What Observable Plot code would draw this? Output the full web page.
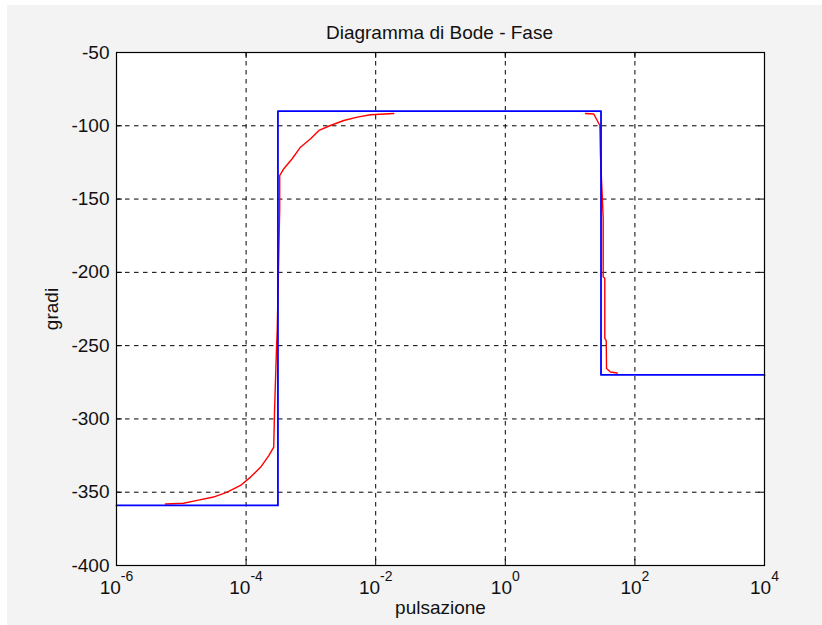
<!DOCTYPE html>
<html>
<head>
<meta charset="utf-8">
<script src="https://cdn.jsdelivr.net/npm/d3@7"></script>
<script src="https://cdn.jsdelivr.net/npm/@observablehq/plot@0.6"></script>
<style>
  html, body { margin: 0; padding: 0; background: #ffffff; }
  #fig {
    position: absolute; left: 0; top: 0;
    width: 822px; height: 625px;
    box-sizing: border-box;
    border-top: 5px solid #ffffff;
    border-left: 7px solid #ffffff;
    background: #f3f3f3;
    font-family: "Liberation Sans", Arial, sans-serif;
  }
  #title {
    height: 35px; box-sizing: border-box;
    padding-top: 18px;
    padding-left: 50px;
    font-size: 19px; line-height: 19px;
    text-align: center; color: #111;
  }
</style>
</head>
<body>
<div id="fig">
  <div id="title">Diagramma di Bode - Fase</div>
  <div id="chart"></div>
</div>
<script>
// Axis ticks
const xTicks = [1e-6, 1e-4, 1e-2, 1, 1e2, 1e4];
const yTicks = [-50, -100, -150, -200, -250, -300, -350, -400];

// Asymptotic phase (blue)
const asymW = [1e-6, 3.1e-4, 3.1e-4, 30, 30, 1e4];
const asymPhase = [-359, -359, -90, -90, -270, -270];

// Computed phase (red)
const phaseW = [
  5.7e-6, 1.08e-5, 1.76e-5, 3.14e-5, 5.1e-5, 8.2e-5, 1.17e-4, 1.67e-4, 2.24e-4,
  2.67e-4, 2.74e-4, 2.94e-4, 3.02e-4, 3.3e-4, 3.3e-4, 3.82e-4, 5.14e-4, 6.9e-4,
  9.9e-4, 1.33e-3, 2.0e-3, 3.22e-3, 5.2e-3, 8.3e-3, 1.9e-2
];
const phaseDeg = [
  -358, -357.5, -355.6, -353.3, -350, -345.4, -339.7, -333, -325,
  -319.2, -296, -253, -240, -157, -134, -129.3, -122.5, -114.6,
  -108.9, -103.2, -99.8, -96.4, -94.1, -92.5, -91.6
];
const phaseW2 = [17.3, 23.2, 26.2, 28.8, 29.4, 32.4, 32.4, 34.3, 34.3, 36.1, 36.5, 42, 53.3];
const phaseDeg2 = [-91.6, -92, -96.4, -99.8, -120, -163, -203, -204, -245, -246.5, -265.6, -268, -268.7];

const asym = asymW.map((w, i) => ({w, deg: asymPhase[i]}));
const phaseLow = phaseW.map((w, i) => ({w, deg: phaseDeg[i]}));
const phaseHigh = phaseW2.map((w, i) => ({w, deg: phaseDeg2[i]}));

const frameW = 822 - 116 - 58;
const frameH = 565 - 52;
const tickLen = 6;

const chart = Plot.plot({
  width: 815,
  height: 585,
  marginLeft: 109,
  marginRight: 58,
  marginTop: 12,
  marginBottom: 60,
  style: {
    background: "transparent",
    overflow: "visible",
    fontFamily: "'Liberation Sans', Arial, sans-serif",
    fontSize: "19px",
    color: "#111"
  },
  x: {type: "log", domain: [1e-6, 1e4]},
  y: {domain: [-400, -50]},
  marks: [
    Plot.frame({fill: "white", stroke: null}),
    Plot.gridX(xTicks, {stroke: "#000", strokeOpacity: 1, strokeWidth: 1, strokeDasharray: "4.5,4.5"}),
    Plot.gridY(yTicks, {stroke: "#000", strokeOpacity: 1, strokeWidth: 1, strokeDasharray: "4.5,4.5"}),
    // inward ticks on all four sides
    Plot.ruleX(xTicks, {x: d => d, insetTop: frameH - tickLen, stroke: "#000"}),
    Plot.ruleX(xTicks, {x: d => d, insetBottom: frameH - tickLen, stroke: "#000"}),
    Plot.ruleY(yTicks, {y: d => d, insetRight: frameW - tickLen, stroke: "#000"}),
    Plot.ruleY(yTicks, {y: d => d, insetLeft: frameW - tickLen, stroke: "#000"}),
    Plot.line(phaseLow, {x: "w", y: "deg", stroke: "#ff0000", strokeWidth: 1.4}),
    Plot.line(phaseHigh, {x: "w", y: "deg", stroke: "#ff0000", strokeWidth: 1.4}),
    Plot.line(asym, {x: "w", y: "deg", stroke: "#0000ff", strokeWidth: 1.8}),
    Plot.frame({stroke: "#000", strokeWidth: 1.2}),
    Plot.axisX(xTicks, {
      tickSize: 0,
      tickPadding: 15,
      tickFormat: d => `10^${Math.round(Math.log10(d))}`,
      label: "pulsazione",
      labelAnchor: "center",
      labelArrow: "none",
      labelOffset: 48
    }),
    Plot.axisY(yTicks, {
      tickSize: 0,
      tickPadding: 7,
      tickFormat: d => String(d),
      label: "gradi",
      labelAnchor: "center",
      labelArrow: "none",
      labelOffset: 72
    })
  ]
});

// Render decade labels as 10 with a raised exponent
chart.querySelectorAll('g[aria-label="x-axis tick label"] text').forEach(t => {
  const [base, exp] = t.textContent.split("^");
  t.textContent = "";
  const b = document.createElementNS("http://www.w3.org/2000/svg", "tspan");
  b.textContent = base;
  const e = document.createElementNS("http://www.w3.org/2000/svg", "tspan");
  e.textContent = exp;
  e.setAttribute("dy", "-13");
  e.setAttribute("font-size", "14");
  t.appendChild(b);
  t.appendChild(e);
});

document.getElementById("chart").appendChild(chart);
</script>
</body>
</html>
